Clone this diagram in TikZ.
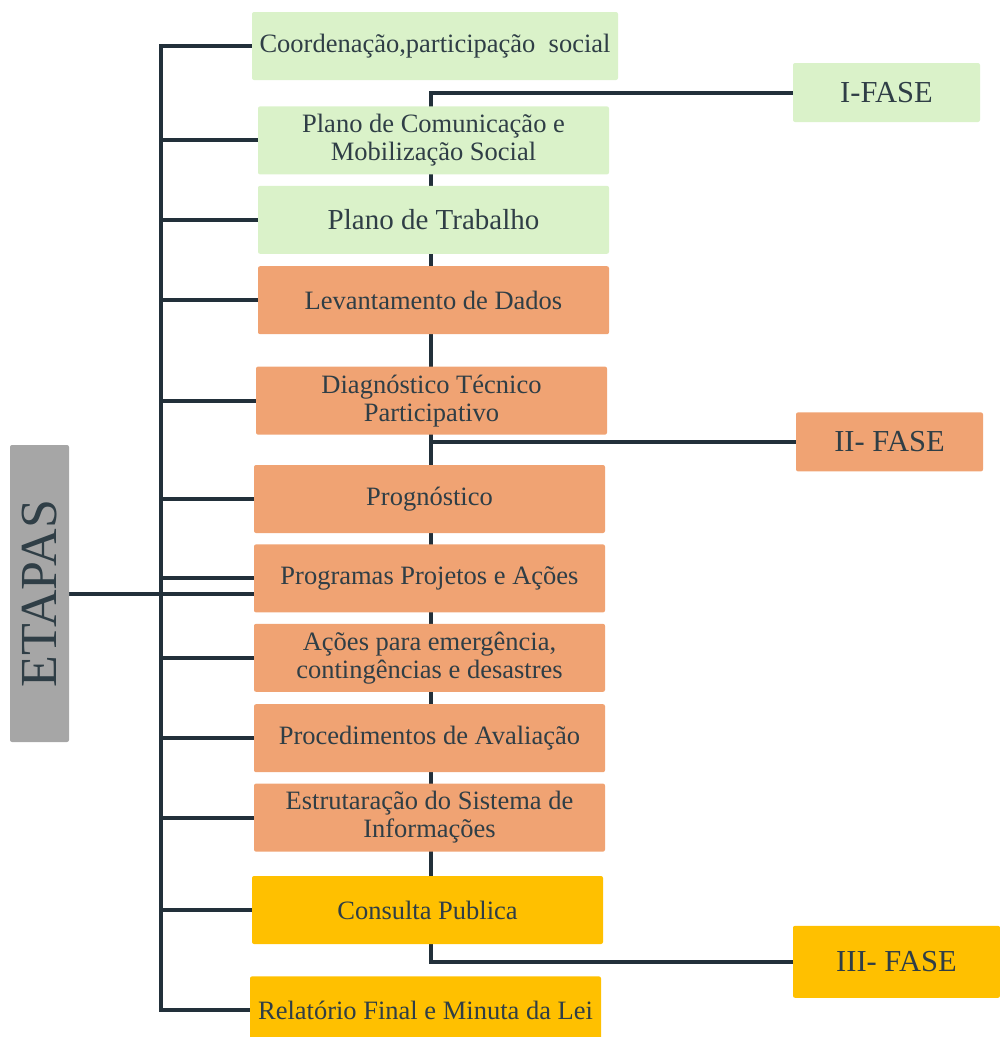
\documentclass[tikz,border=0pt]{standalone}
\usepackage{fontspec}
\setmainfont{Liberation Serif}
\usetikzlibrary{positioning,backgrounds}
\definecolor{Verde}{HTML}{DAF2C9}
\definecolor{Laranja}{HTML}{F0A373}
\definecolor{Amarelo}{HTML}{FFC000}
\definecolor{Cinza}{HTML}{A6A6A6}
\definecolor{Tinta}{HTML}{2F3E46}
\definecolor{Linha}{HTML}{22303A}

\begin{document}
\begin{tikzpicture}[x=1pt,y=-1pt,
    etapa/.style={rounded corners=2pt,minimum width=351pt,minimum height=68pt,inner sep=0pt,align=center,text=Tinta,font=\fontsize{26.5}{28}\selectfont},
    fase/.style={rounded corners=2pt,minimum width=187pt,minimum height=59pt,inner sep=0pt,text=Tinta,font=\fontsize{30.5}{32}\selectfont},
    elo/.style={draw=Linha,line width=4pt}]
    \useasboundingbox (0,0) rectangle (1000,1037);
    % coluna das etapas
    \node[etapa,fill=Verde,minimum width=366pt] (coord) at (435,46) {Coordenação,participação\ \ social};
    \node[etapa,fill=Verde,below=26pt of coord,xshift=-1.5pt] (comunic) {Plano de Comunicação e\\Mobilização Social};
    \node[etapa,fill=Verde,below=11pt of comunic,font=\fontsize{29}{30}\selectfont] (trabalho) {Plano de Trabalho};
    \node[etapa,fill=Laranja,below=12pt of trabalho] (dados) {Levantamento de Dados};
    \node[etapa,fill=Laranja,below=32pt of dados,xshift=-2pt] (diag) {Diagnóstico Técnico\\Participativo};
    \node[etapa,fill=Laranja,below=30pt of diag,xshift=-2pt] (prog) {Prognóstico};
    \node[etapa,fill=Laranja,below=11pt of prog] (progr) {Programas Projetos e Ações};
    \node[etapa,fill=Laranja,below=11pt of progr] (emerg) {Ações para emergência,\\contingências e desastres};
    \node[etapa,fill=Laranja,below=12pt of emerg] (aval) {Procedimentos de Avaliação};
    \node[etapa,fill=Laranja,below=11pt of aval] (sist) {Estrutaração do Sistema de\\Informações};
    \node[etapa,fill=Amarelo,below=24pt of sist,xshift=-2pt] (consulta) {Consulta Publica};
    \node[etapa,fill=Amarelo,below=32pt of consulta,xshift=-2pt] (final) {Relatório Final e Minuta da Lei};
    % fases
    \node[fase,fill=Verde] (fase1) at (886.5,92.5) {I-FASE};
    \node[fase,fill=Laranja,below=290pt of fase1,xshift=3pt] (fase2) {II- FASE};
    \node[fase,fill=Amarelo,below=454pt of fase2,xshift=7pt,minimum width=207pt,minimum height=72pt] (fase3) {III- FASE};
    \node[fill=Cinza,rounded corners=2pt,minimum width=59pt,minimum height=297pt,inner sep=0pt,text=Tinta,font=\fontsize{52}{52}\selectfont] (etapas) at (39.5,593.5) {\rotatebox{90}{ETAPAS}};
    \coordinate (eixo) at (431,92.5);
    \begin{scope}[on background layer]
      \foreach \n in {coord,comunic,trabalho,dados,diag,prog,progr,emerg,aval,sist,consulta,final}
        \draw[elo] (etapas.east) -- ++(92,0) |- (\n.west);
      \draw[elo] (etapas.east) -- (etapas.east -| progr.west);
      \draw[elo] (fase1.west) -- (eixo) |- (fase3.west);
      \draw[elo] (fase2.west) -- (fase2.west -| eixo);
    \end{scope}
\end{tikzpicture}
\end{document}
